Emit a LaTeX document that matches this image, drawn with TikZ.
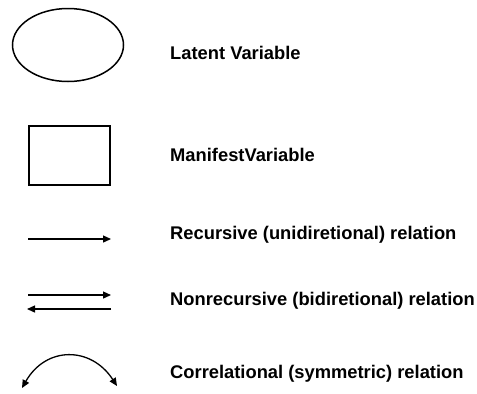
\documentclass[tikz,border=0pt]{standalone}
\usepackage{fontspec}
\setmainfont{Liberation Sans}
\usepackage{tikz}
\usetikzlibrary{arrows.meta, positioning, shapes.geometric}

\begin{document}
\begin{tikzpicture}[
  x=1bp, y=-1bp,
  lat/.style={ellipse, draw, line width=1.5bp, inner sep=0pt,
              minimum width=111bp, minimum height=73bp},
  man/.style={rectangle, draw, line width=2bp, inner sep=0pt,
              minimum width=81bp, minimum height=59bp},
  lbl/.style={anchor=west, inner sep=0pt, font=\fontsize{18.4}{21}\selectfont\bfseries},
  rel/.style={line width=1.3bp, -{Triangle[length=8bp, width=7bp]}}
]
  \useasboundingbox (0,0) rectangle (477,393);

  \node[lat] (lv) at (68,45)   {};
  \node[man] (mv) at (69,155)  {};
  \node[lbl] (lvt) at (170,53)  {Latent Variable};
  \node[lbl] (mvt) at (170,155) {ManifestVariable};

  \coordinate (r1) at (28,239);
  \coordinate (r2) at (111,239);
  \coordinate (n1) at (28,295);
  \coordinate (n2) at (111,295);
  \coordinate (n3) at (111,309);
  \coordinate (n4) at (27,309);
  \coordinate (c1) at (22,388);
  \coordinate (c2) at (117,386);

  \draw[rel] (r1) -- (r2);
  \draw[rel] (n1) -- (n2);
  \draw[rel] (n3) -- (n4);
  \draw[rel, {Triangle[length=8bp, width=7bp]}-{Triangle[length=8bp, width=7bp]}]
    (c1) .. controls (46,346) and (91,346) .. (c2);

  \node[lbl] (rt) at (170,235) {Recursive (unidiretional) relation};
  \node[lbl] (nt) at (170,301) {Nonrecursive (bidiretional) relation};
  \node[lbl] (ct) at (170,374) {Correlational (symmetric) relation};
\end{tikzpicture}
\end{document}
